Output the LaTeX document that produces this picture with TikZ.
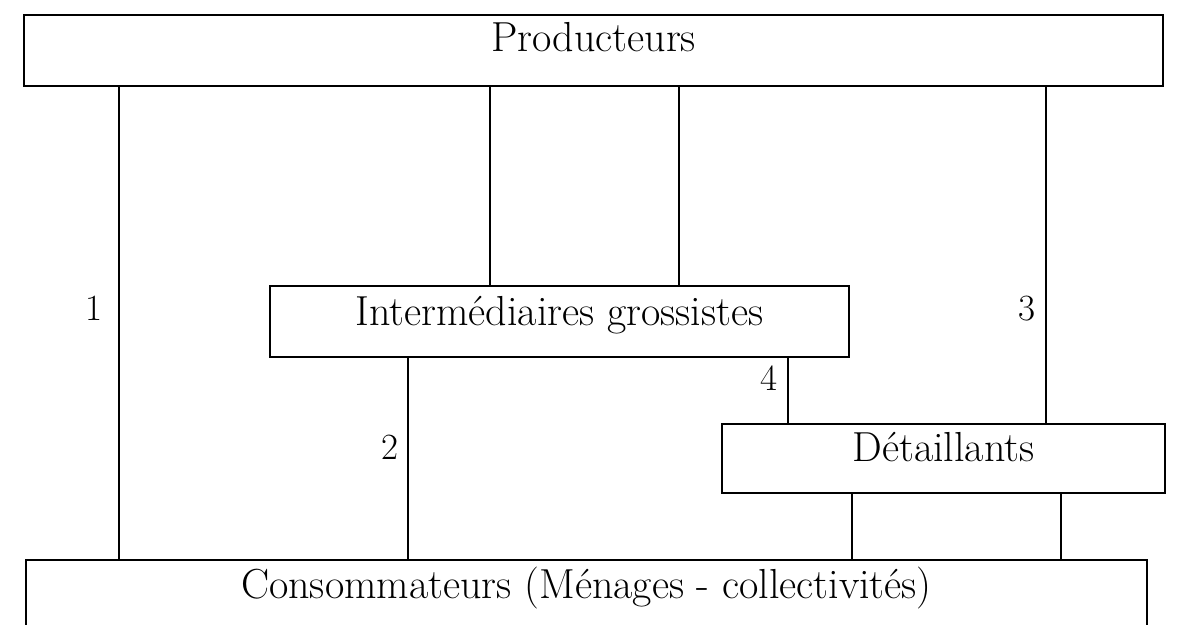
\documentclass[tikz,border=0pt]{standalone}
\usepackage{fontspec}
\setmainfont{Latin Modern Roman}
\begin{document}
\begin{tikzpicture}[x=1pt,y=-1pt,
  box/.style={draw, line width=1.4pt, inner sep=0pt, text height=7pt, text depth=0pt,
              font=\fontsize{42}{47}\selectfont},
  conn/.style={line width=1.4pt},
  num/.style={anchor=base east, inner sep=0pt, font=\fontsize{37}{42}\selectfont}]
\useasboundingbox (0,0) rectangle (1180,624);
\clip (0,0) rectangle (1180,624);
\fill[white] (0,0) rectangle (1180,624);
% boxes
\node[box, minimum width=1139pt, minimum height=71pt, text height=1pt] (prod) at (593.5,50.5) {Producteurs};
\node[box, minimum width=579pt, minimum height=71pt] (inter) at (559.5,321.5) {Intermédiaires grossistes};
\node[box, minimum width=443pt, minimum height=69pt, text height=6.4pt] (det) at (943.5,458.5) {Détaillants};
\node[box, minimum width=1121pt, minimum height=69pt] (cons) at (586.5,594.5) {Consommateurs (Ménages - collectivités)};
% x positions of the connectors
\coordinate (xa) at (119,0);
\coordinate (xb) at (490,0);
\coordinate (xc) at (679,0);
\coordinate (xd) at (1046,0);
\coordinate (xe) at (408,0);
\coordinate (xf) at (788,0);
\coordinate (xg) at (852,0);
\coordinate (xh) at (1061,0);
% connectors
\draw[conn] (prod.south -| xa) -- (cons.north -| xa);
\draw[conn] (prod.south -| xb) -- (inter.north -| xb);
\draw[conn] (prod.south -| xc) -- (inter.north -| xc);
\draw[conn] (prod.south -| xd) -- (det.north -| xd);
\draw[conn] (inter.south -| xe) -- (cons.north -| xe);
\draw[conn] (inter.south -| xf) -- (det.north -| xf);
\draw[conn] (det.south -| xg) -- (cons.north -| xg);
\draw[conn] (det.south -| xh) -- (cons.north -| xh);
% labels
\node[num] (n1) at (103,320) {1};
\node[num] (n2) at (399,459) {2};
\node[num] (n3) at (1036,320) {3};
\node[num] (n4) at (778,390) {4};
\end{tikzpicture}
\end{document}
